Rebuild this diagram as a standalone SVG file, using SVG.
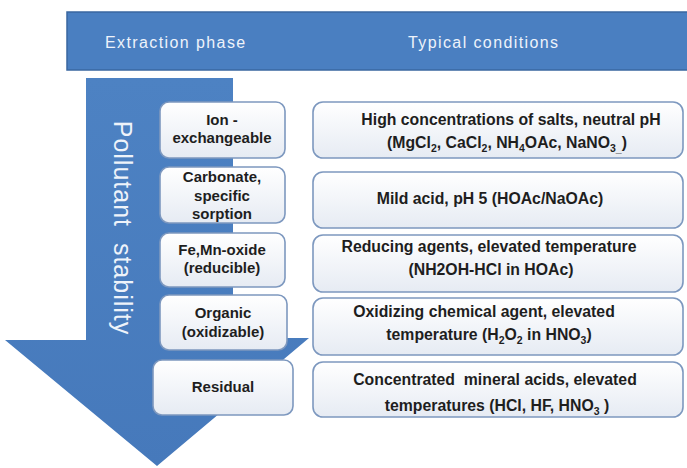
<svg xmlns="http://www.w3.org/2000/svg" width="687" height="468" viewBox="0 0 687 468">
  <defs>
    <linearGradient id="boxFill" x1="0" y1="0" x2="0" y2="1">
      <stop offset="0" stop-color="#ffffff"/>
      <stop offset="1" stop-color="#e6ebf3"/>
    </linearGradient>
    <linearGradient id="blueFill" x1="0" y1="0" x2="0" y2="1">
      <stop offset="0" stop-color="#4d82c3"/>
      <stop offset="1" stop-color="#4679bb"/>
    </linearGradient>
    <style>
      .box { fill: url(#boxFill); stroke: #7d98bf; stroke-width: 1.6; }
      .lbl { font-family: "Liberation Sans", Arial, sans-serif; font-weight: bold; font-size: 15px; fill: #1e1e1e; text-anchor: middle; white-space: pre; }
      .cond { font-size: 15.8px; }
      .head { font-family: "Liberation Sans", Arial, sans-serif; font-size: 16px; fill: #eef3fb; letter-spacing: 1.4px; }
      .sub { font-size: 10.5px; }
    </style>
  </defs>

  <rect width="687" height="468" fill="#ffffff"/>

  <!-- header band -->
  <g id="header">
    <rect x="67" y="12" width="622" height="58" fill="#4a7fc1" stroke="#3a67a0" stroke-width="1.5"/>
    <text class="head" x="105" y="48">Extraction phase</text>
    <text class="head" x="408" y="48">Typical conditions</text>
  </g>

  <!-- downward stability arrow -->
  <g id="stability-arrow">
    <polygon points="86,78 233,78 233,338 309,338 157,466 5,340 86,340" fill="url(#blueFill)"/>
    <text transform="translate(123,228) rotate(90)" font-family="'Liberation Sans', Arial, sans-serif" font-size="25" letter-spacing="1" fill="#eef3fa" text-anchor="middle" dominant-baseline="central" style="white-space: pre">Pollutant  stability</text>
  </g>

  <!-- extraction phases -->
  <g id="phase-ion">
    <rect class="box" x="160" y="102" width="125" height="56" rx="9"/>
    <text class="lbl" x="222" y="125">Ion -</text>
    <text class="lbl" x="222" y="143">exchangeable</text>
  </g>
  <g id="phase-carbonate">
    <rect class="box" x="160" y="167" width="125" height="56" rx="9"/>
    <text class="lbl" x="222" y="182">Carbonate,</text>
    <text class="lbl" x="222" y="201">specific</text>
    <text class="lbl" x="222" y="219">sorption</text>
  </g>
  <g id="phase-oxide">
    <rect class="box" x="160" y="233" width="125" height="54" rx="9"/>
    <text class="lbl" x="222" y="255">Fe,Mn-oxide</text>
    <text class="lbl" x="222" y="273">(reducible)</text>
  </g>
  <g id="phase-organic">
    <rect class="box" x="160" y="295" width="127" height="55" rx="9"/>
    <text class="lbl" x="223" y="318">Organic</text>
    <text class="lbl" x="223" y="337">(oxidizable)</text>
  </g>
  <g id="phase-residual">
    <rect class="box" x="153" y="360" width="140" height="55" rx="9"/>
    <text class="lbl" x="223" y="392">Residual</text>
  </g>

  <!-- typical conditions -->
  <g id="cond-ion">
    <rect class="box" x="313" y="102" width="370" height="56" rx="10"/>
    <text class="lbl cond" x="511" y="125">High concentrations of salts, neutral pH</text>
    <text class="lbl cond" x="507" y="148">(MgCl<tspan class="sub" dy="4">2</tspan><tspan dy="-4">, CaCl</tspan><tspan class="sub" dy="4">2</tspan><tspan dy="-4">, NH</tspan><tspan class="sub" dy="4">4</tspan><tspan dy="-4">OAc, NaNO</tspan><tspan class="sub" dy="4">3_</tspan><tspan dy="-4">)</tspan></text>
  </g>
  <g id="cond-carbonate">
    <rect class="box" x="313" y="172" width="370" height="56" rx="10"/>
    <text class="lbl cond" x="490" y="204">Mild acid, pH 5 (HOAc/NaOAc)</text>
  </g>
  <g id="cond-oxide">
    <rect class="box" x="313" y="235" width="370" height="57" rx="10"/>
    <text class="lbl cond" x="489" y="252">Reducing agents, elevated temperature</text>
    <text class="lbl cond" x="491" y="275">(NH2OH-HCl in HOAc)</text>
  </g>
  <g id="cond-organic">
    <rect class="box" x="313" y="298" width="370" height="57" rx="10"/>
    <text class="lbl cond" x="484" y="317">Oxidizing chemical agent, elevated</text>
    <text class="lbl cond" x="489" y="340">temperature (H<tspan class="sub" dy="4">2</tspan><tspan dy="-4">O</tspan><tspan class="sub" dy="4">2</tspan><tspan dy="-4"> in HNO</tspan><tspan class="sub" dy="4">3</tspan><tspan dy="-4">)</tspan></text>
  </g>
  <g id="cond-residual">
    <rect class="box" x="313" y="362" width="370" height="55" rx="10"/>
    <text class="lbl cond" x="495" y="385">Concentrated  mineral acids, elevated</text>
    <text class="lbl cond" x="497" y="411">temperatures (HCl, HF, HNO<tspan class="sub" dy="4">3</tspan><tspan dy="-4"> )</tspan></text>
  </g>

  <!-- connectors: none drawn -->
  <g id="connectors"/>
</svg>
